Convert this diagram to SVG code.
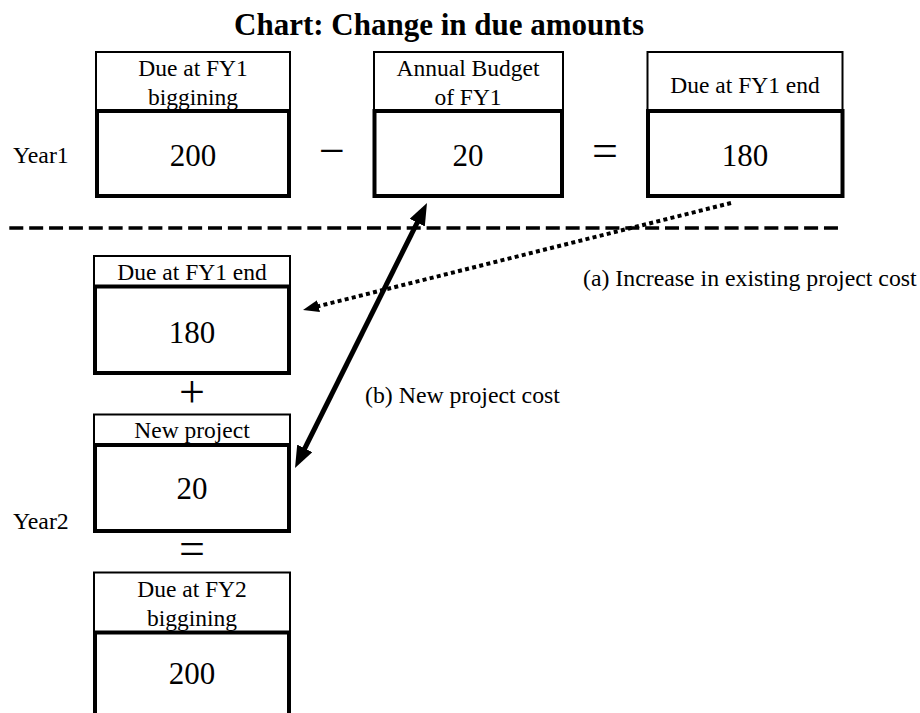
<svg xmlns="http://www.w3.org/2000/svg" width="920" height="713" viewBox="0 0 920 713">
<style>
  text { font-family: 'Liberation Serif', 'DejaVu Serif', serif; fill: #000; }
  .hdr { fill: #fff; stroke: #000; stroke-width: 2; }
  .body { fill: #fff; stroke: #000; stroke-width: 4; }
  .lbl { font-size: 23.5px; text-anchor: middle; }
  .num { font-size: 31px; text-anchor: middle; }
  .op { font-size: 46px; text-anchor: middle; }
  .side { font-size: 23.8px; }
  .title { font-size: 31px; font-weight: bold; }
</style>
<defs>
  <marker id="solidHead" viewBox="0 0 22 17" refX="9" refY="8.5" markerWidth="22" markerHeight="17" markerUnits="userSpaceOnUse" orient="auto-start-reverse">
    <path d="M0,0 L22,8.5 L0,17 z" fill="#000"/>
  </marker>
  <marker id="dotHead" viewBox="0 0 16 12" refX="6" refY="6" markerWidth="16" markerHeight="12" markerUnits="userSpaceOnUse" orient="auto">
    <path d="M0,0 L16,6 L0,12 z" fill="#000"/>
  </marker>
</defs>

<g font-family="Liberation Serif, DejaVu Serif, serif">
<text class="title" x="234" y="35">Chart: Change in due amounts</text>

<text class="side" x="13" y="163">Year1</text>
<text class="side" x="13" y="529">Year2</text>

<!-- Year 1 row -->
<g id="y1-due-begin">
  <rect class="hdr" x="96" y="52" width="194" height="59"/>
  <text class="lbl" x="193" y="76">Due at FY1</text>
  <text class="lbl" x="193" y="105">biggining</text>
  <rect class="body" x="97" y="111" width="192" height="85"/>
  <text class="num" x="193" y="166">200</text>
</g>
<text class="op" x="332" y="166">−</text>
<g id="y1-budget">
  <rect class="hdr" x="374" y="52" width="189" height="59"/>
  <text class="lbl" x="468" y="76">Annual Budget</text>
  <text class="lbl" x="468" y="105">of FY1</text>
  <rect class="body" x="374.5" y="111" width="187.5" height="85"/>
  <text class="num" x="468" y="166">20</text>
</g>
<text class="op" x="605" y="166">=</text>
<g id="y1-due-end">
  <rect class="hdr" x="647.5" y="52" width="195" height="59"/>
  <text class="lbl" x="745" y="93">Due at FY1 end</text>
  <rect class="body" x="648" y="111" width="194.5" height="85"/>
  <text class="num" x="745" y="166">180</text>
</g>

<line x1="9.3" y1="228" x2="838" y2="228" stroke="#000" stroke-width="3.5" stroke-dasharray="14 5.87"/>

<!-- Year 2 column -->
<g id="y2-due-end">
  <rect class="hdr" x="94" y="256" width="196" height="30.5"/>
  <text class="lbl" x="192" y="280">Due at FY1 end</text>
  <rect class="body" x="95" y="286.5" width="194" height="86.5"/>
  <text class="num" x="192" y="343">180</text>
</g>
<text class="op" x="192" y="406.5">+</text>
<g id="y2-new-project">
  <rect class="hdr" x="94" y="414.5" width="196" height="30.5"/>
  <text class="lbl" x="192" y="438">New project</text>
  <rect class="body" x="95" y="445" width="194" height="86"/>
  <text class="num" x="192" y="499">20</text>
</g>
<text class="op" x="192" y="563.5">=</text>
<g id="y2-due-begin">
  <rect class="hdr" x="94" y="572.5" width="196" height="60"/>
  <text class="lbl" x="192" y="597">Due at FY2</text>
  <text class="lbl" x="192" y="626">biggining</text>
  <rect class="body" x="95" y="632.5" width="194" height="100"/>
  <text class="num" x="192" y="684">200</text>
</g>

<!-- connectors -->
<g id="connectors">
  <line x1="300.8" y1="456.4" x2="421.2" y2="214.6" stroke="#000" stroke-width="5" marker-start="url(#solidHead)" marker-end="url(#solidHead)"/>
  <line x1="731" y1="203" x2="312.7" y2="307.6" stroke="#000" stroke-width="4" stroke-dasharray="4 3.3" marker-end="url(#dotHead)"/>
</g>

<text class="side" x="583" y="286">(a) Increase in existing project cost</text>
<text class="side" x="365" y="403">(b) New project cost</text>
</g>
</svg>
